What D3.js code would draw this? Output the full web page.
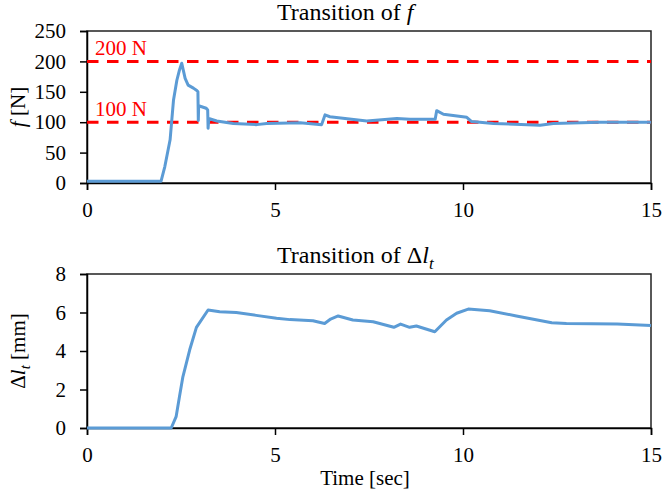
<!DOCTYPE html>
<html>
<head>
<meta charset="utf-8">
<script src="https://cdn.jsdelivr.net/npm/d3@7"></script>
<style>
  html, body { margin: 0; padding: 0; background: #fff; }
  svg { display: block; font-family: "Liberation Serif", "DejaVu Serif", serif; }
</style>
</head>
<body>
<svg id="chart" width="662" height="492"></svg>
<script>
// Time axis ticks (seconds)
const timeTicks = [0, 5, 10, 15];

// Force f [N] over time
const forceTime = [0, 1.97, 2.07, 2.21, 2.30, 2.39, 2.46, 2.52, 2.61, 2.69, 2.83, 2.92, 2.95, 2.96, 2.97,
  3.17, 3.21, 3.22, 3.24, 3.45, 3.89, 4.51, 4.78, 5.67, 6.24, 6.33, 6.46, 7.44, 8.24, 8.59, 9.26,
  9.30, 9.48, 10.10, 10.23, 10.81, 12.05, 12.40, 13.64, 15];
const forceValues = [3, 3, 27, 71, 136, 169, 186, 197, 172, 161, 156, 152, 150, 103, 127,
  123, 120, 90, 106, 102, 98, 96, 98, 99, 96, 112, 109, 102, 106, 105, 105,
  119, 113, 108, 101, 98, 95, 98, 100, 100];
const forceTicks = [0, 50, 100, 150, 200, 250];

// Reference force levels
const forceRefs = [200, 100];
const forceRefLabels = ["200 N", "100 N"];

// Tendon displacement Δl_t [mm] over time
const dlTime = [0, 2.24, 2.37, 2.46, 2.55, 2.73, 2.91, 3.22, 3.53, 3.97, 4.5, 5.04, 5.40, 6.01, 6.32,
  6.48, 6.68, 7.07, 7.61, 8.16, 8.34, 8.58, 8.76, 9.25, 9.56, 9.83, 10.14, 10.71, 11.42, 12.36,
  12.75, 14.1, 15];
const dlValues = [0, 0, 0.59, 1.63, 2.66, 4.05, 5.23, 6.13, 6.04, 6.00, 5.85, 5.70, 5.63, 5.57, 5.43,
  5.66, 5.82, 5.61, 5.52, 5.23, 5.40, 5.23, 5.30, 5.00, 5.61, 5.96, 6.18, 6.09, 5.82, 5.47,
  5.43, 5.40, 5.33];
const dlTicks = [0, 2, 4, 6, 8];

const svg = d3.select("#chart");
const blue = "#5b9bd5";
const fontSize = 21;
const titleSize = 24;

function panel(opts) {
  const x = d3.scaleLinear().domain([0, 15]).range([87, 651]);
  const y = d3.scaleLinear().domain(opts.yDomain).range([opts.bottom, opts.top]);
  const g = svg.append("g");

  // frame
  g.append("rect")
    .attr("x", x(0)).attr("y", y(opts.yDomain[1]))
    .attr("width", x(15) - x(0)).attr("height", y(opts.yDomain[0]) - y(opts.yDomain[1]))
    .attr("fill", "none").attr("stroke", "#222").attr("stroke-width", 1.5);

  const xAxis = g.append("g")
    .attr("transform", `translate(0,${y(opts.yDomain[0])})`)
    .call(d3.axisBottom(x).tickValues(timeTicks).tickSize(7).tickPadding(12));
  const yAxis = g.append("g")
    .attr("transform", `translate(${x(0)},0)`)
    .call(d3.axisLeft(y).tickValues(opts.yTicks).tickSize(7).tickPadding(14));
  [xAxis, yAxis].forEach(a => {
    a.attr("font-family", null);
    a.select(".domain").attr("stroke", "#000").attr("stroke-width", 1.5);
    a.selectAll(".tick line").attr("stroke", "#000").attr("stroke-width", 1.5);
    a.selectAll(".tick text")
      .attr("font-size", fontSize)
      .attr("font-family", "Liberation Serif, serif")
      .attr("fill", "#000");
  });

  return { g, x, y };
}

// ---- Upper panel: force ----
const forcePanel = panel({ yDomain: [0, 250], top: 31, bottom: 183, yTicks: forceTicks });

forceRefs.forEach((v) => {
  forcePanel.g.append("line")
    .attr("x1", forcePanel.x(0)).attr("x2", forcePanel.x(15))
    .attr("y1", forcePanel.y(v)).attr("y2", forcePanel.y(v))
    .attr("stroke", "#ff0000").attr("stroke-width", 3)
    .attr("stroke-dasharray", "11.5 8.5");
});

const forcePts = forceTime.map((t, i) => [t, forceValues[i]]);
forcePanel.g.append("path")
  .datum(forcePts)
  .attr("fill", "none").attr("stroke", blue).attr("stroke-width", 3)
  .attr("stroke-linejoin", "round")
  .attr("d", d3.line().x(d => forcePanel.x(d[0])).y(d => forcePanel.y(d[1])));

forceRefs.forEach((v, i) => {
  forcePanel.g.append("text")
    .attr("x", forcePanel.x(0) + 8).attr("y", forcePanel.y(v) - 6)
    .attr("fill", "#ff0000").attr("font-size", fontSize)
    .text(forceRefLabels[i]);
});

// title
const t1 = svg.append("text").attr("x", 277).attr("y", 20)
  .attr("font-size", titleSize);
t1.append("tspan").text("Transition of ");
t1.append("tspan").attr("font-style", "italic").text("f");

// y label
const yl1 = svg.append("text")
  .attr("transform", `translate(25,${(31 + 183) / 2}) rotate(-90)`)
  .attr("text-anchor", "middle").attr("font-size", fontSize);
yl1.append("tspan").attr("font-style", "italic").text("f");
yl1.append("tspan").text(" [N]");

// ---- Lower panel: Δl_t ----
const dlPanel = panel({ yDomain: [0, 8], top: 274, bottom: 428, yTicks: dlTicks });

const dlPts = dlTime.map((t, i) => [t, dlValues[i]]);
dlPanel.g.append("path")
  .datum(dlPts)
  .attr("fill", "none").attr("stroke", blue).attr("stroke-width", 3)
  .attr("stroke-linejoin", "round")
  .attr("d", d3.line().x(d => dlPanel.x(d[0])).y(d => dlPanel.y(d[1])));

const t2 = svg.append("text").attr("x", 277).attr("y", 263)
  .attr("font-size", titleSize);
t2.append("tspan").text("Transition of Δ");
t2.append("tspan").attr("font-style", "italic").text("l");
t2.append("tspan").attr("font-style", "italic").attr("font-size", 17).attr("dy", 6).text("t");

const yl2 = svg.append("text")
  .attr("transform", `translate(25,${(274 + 428) / 2}) rotate(-90)`)
  .attr("text-anchor", "middle").attr("font-size", fontSize);
yl2.append("tspan").text("Δ");
yl2.append("tspan").attr("font-style", "italic").text("l");
yl2.append("tspan").attr("font-style", "italic").attr("font-size", 15).attr("dy", 5).text("t");
yl2.append("tspan").attr("dy", -5).text(" [mm]");

svg.append("text").attr("x", 365).attr("y", 485)
  .attr("text-anchor", "middle").attr("font-size", fontSize)
  .text("Time [sec]");
</script>
</body>
</html>
